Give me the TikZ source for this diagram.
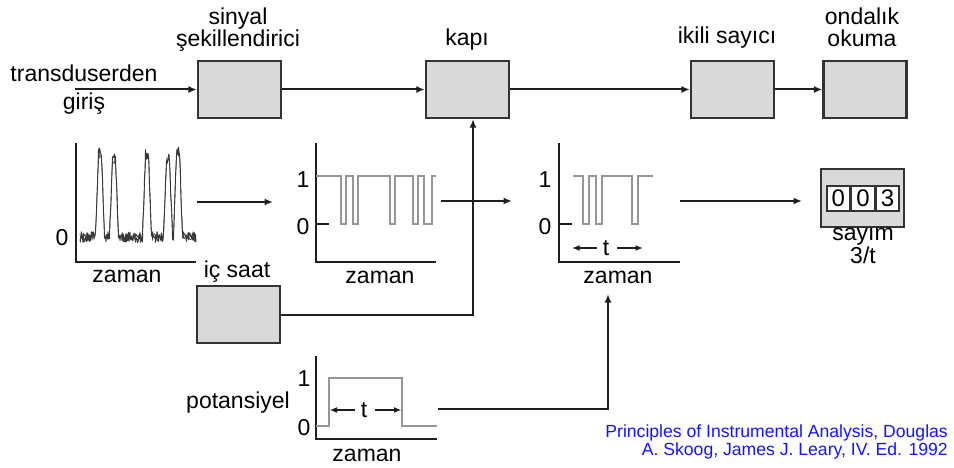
\documentclass[tikz,border=0pt]{standalone}
\usepackage{fontspec}
\setmainfont{Liberation Sans}
\usetikzlibrary{arrows.meta}
\definecolor{boxfill}{RGB}{217,217,217}
\definecolor{boxedge}{RGB}{51,51,51}
\definecolor{sig}{RGB}{150,150,150}
\definecolor{citeblue}{RGB}{20,20,255}

\begin{document}
\begin{tikzpicture}[x=1pt,y=-1pt,
  txt/.style={font=\fontsize{23}{22}\selectfont, inner sep=0pt, align=center},
  blk/.style={draw=boxedge, line width=2.2pt, fill=boxfill, minimum width=83pt, minimum height=57pt, inner sep=0pt},
  wire/.style={line width=2pt, draw=black!88},
  arr/.style={wire, -{Latex[length=8.5pt,width=7pt]}},
  axis/.style={line width=2.2pt, draw=black!88, line join=miter},
  wave/.style={line width=2.2pt, draw=sig, line join=miter},
  noise/.style={line width=0.9pt, draw=black!78, line join=round},
  span/.style={line width=1.8pt, draw=black!88, -{Latex[length=7.5pt,width=6pt]}},
  cell/.style={draw=boxedge, line width=1.6pt, fill=white, minimum width=23pt, minimum height=25pt, inner sep=0pt, font=\fontsize{24}{24}\selectfont},
  declare function={pk(\x,\c,\h)=\h*max(0,min(1,(4.5-abs(\x-\c))/3));}
]
\useasboundingbox (0,0) rectangle (954,468);

% ---------- main signal chain ----------
\node[blk] (shaper)  at (239.5,89.5) {};
\node[blk] (gate)    at (467.5,89.5) {};
\node[blk] (counter) at (732.5,89.5) {};
\node[blk] (readout) at (865,89.5) {};
\node[blk] (clock)   at (238.5,314.5) {};

\coordinate (src) at (75,89.5);
\draw[arr] (src) -- (shaper);
\draw[arr] (shaper) -- (gate);
\draw[arr] (gate) -- (counter);
\draw[arr] (counter) -- (readout);
\draw[arr] (clock.east) -| ([xshift=5.5pt]gate.south);

\node[txt, anchor=base, font=\fontsize{23}{28}\selectfont] (inlbl) at (84,110) {transduserden\\giriş};
\node[txt, anchor=base] (shaperlbl) at (238,47) {sinyal\\şekillendirici};
\node[txt, anchor=base] (gatelbl) at (467,46) {kapı};
\node[txt, anchor=base] (counterlbl) at (727,44) {ikili sayıcı};
\node[txt, anchor=base] (readoutlbl) at (862,47) {ondalık\\okuma};
\node[txt, anchor=base] (clocklbl) at (237,277) {iç saat};

% ---------- raw transducer signal ----------
\draw[axis] (76,143) -- (76,262) -- (196,262);
\pgfmathsetseed{12}
\draw[noise] plot[domain=80:196, samples=233]
  (\x, {237 + 5.5*rand - pk(\x,100,84) - pk(\x,114,79) - pk(\x,147,82) - pk(\x,168,78) - pk(\x,178,87)});
\draw[noise, line width=0.6pt] plot[domain=80:196, samples=175]
  (\x, {237 + 4*rand - 0.97*pk(\x,100,84) - 0.97*pk(\x,114,79) - 0.97*pk(\x,147,82) - 0.97*pk(\x,168,78) - 0.97*pk(\x,178,87)});
\node[txt, anchor=base] (z1) at (62,245) {0};
\node[txt, anchor=base] (t1) at (127,282) {zaman};

\coordinate (g1out) at (197,202);
\coordinate (g2in) at (273,202);
\draw[arr] (g1out) -- (g2in);

% ---------- shaped signal ----------
\draw[axis] (316,143) -- (316,262) -- (436,262);
\draw[axis] (316,224) -- (329,224);
\draw[wave] (316,176) -- (341,176) -- (341,224) -- (345.7,224) -- (345.7,176)
  -- (352.7,176) -- (352.7,224) -- (358.3,224) -- (358.3,176)
  -- (390,176) -- (390,224) -- (395,224) -- (395,176)
  -- (412.7,176) -- (412.7,224) -- (417.7,224) -- (417.7,176)
  -- (424.3,176) -- (424.3,224) -- (431.7,224) -- (431.7,176) -- (436,176);
\node[txt, anchor=base] (o2) at (303,188) {1};
\node[txt, anchor=base] (z2) at (303,235) {0};
\node[txt, anchor=base] (t2) at (380,283) {zaman};

\coordinate (g2out) at (441,201);
\coordinate (g3in) at (512,201);
\draw[arr] (g2out) -- (g3in);

% ---------- gated signal ----------
\draw[axis] (559,143) -- (559,262) -- (680,262);
\draw[axis] (559,224) -- (572,224);
\draw[wave] (573,176) -- (583,176) -- (583,224) -- (589,224) -- (589,176)
  -- (596,176) -- (596,224) -- (601.7,224) -- (601.7,176)
  -- (631.7,176) -- (631.7,224) -- (637.7,224) -- (637.7,176) -- (652.7,176);
\node[txt, anchor=base] (o3) at (545,188) {1};
\node[txt, anchor=base] (z3) at (545,235) {0};
\node[txt, anchor=base] (t3lbl) at (618,283) {zaman};
\node[txt] (t3) at (606,248) {t};
\coordinate (t3l) at (572,248);
\coordinate (t3r) at (643,248);
\draw[span] ([xshift=-6pt]t3.west) -- (t3l);
\draw[span] ([xshift=8pt]t3.east) -- (t3r);

\coordinate (g3out) at (680,201);
\coordinate (dispin) at (802,201);
\draw[arr] (g3out) -- (dispin);

% ---------- count display ----------
\node[blk, minimum height=58pt] (display) at (862.5,198) {};
\node[cell] (d2) at (863,198.5) {0};
\node[cell, anchor=east] (d1) at (d2.west) {0};
\node[cell, anchor=west] (d3) at (d2.east) {3};
\node[txt, anchor=base, font=\fontsize{23}{20}\selectfont] (countlbl) at (863,263) {sayım\\3/t};

% ---------- timing window ----------
\draw[axis] (316,356) -- (316,439) -- (437,439);
\draw[wave] (316,425.7) -- (329,425.7) -- (329,378) -- (402,378) -- (402,425.7) -- (437,425.7);
\node[txt, anchor=base] (o4) at (304,386) {1};
\node[txt, anchor=base] (z4) at (304,435) {0};
\node[txt, anchor=base] (potlbl) at (238,408) {potansiyel};
\node[txt, anchor=base] (t4lbl) at (367,461) {zaman};
\node[txt] (t4) at (364,410) {t};
\coordinate (t4l) at (329.5,410);
\coordinate (t4r) at (401.5,410);
\draw[span] ([xshift=-6pt]t4.west) -- (t4l);
\draw[span] ([xshift=8pt]t4.east) -- (t4r);

\coordinate (pout) at (438,409);
\coordinate (g3feed) at (608,294);
\draw[arr] (pout) -| (g3feed);

% ---------- source ----------
\node[anchor=base east, align=right, inner sep=0pt, text=citeblue,
      font=\fontsize{17.6}{16}\selectfont] (cite) at (948,455)
  {Principles of Instrumental Analysis, Douglas\\A. Skoog, James J. Leary, IV. Ed. 1992};
\end{tikzpicture}
\end{document}
